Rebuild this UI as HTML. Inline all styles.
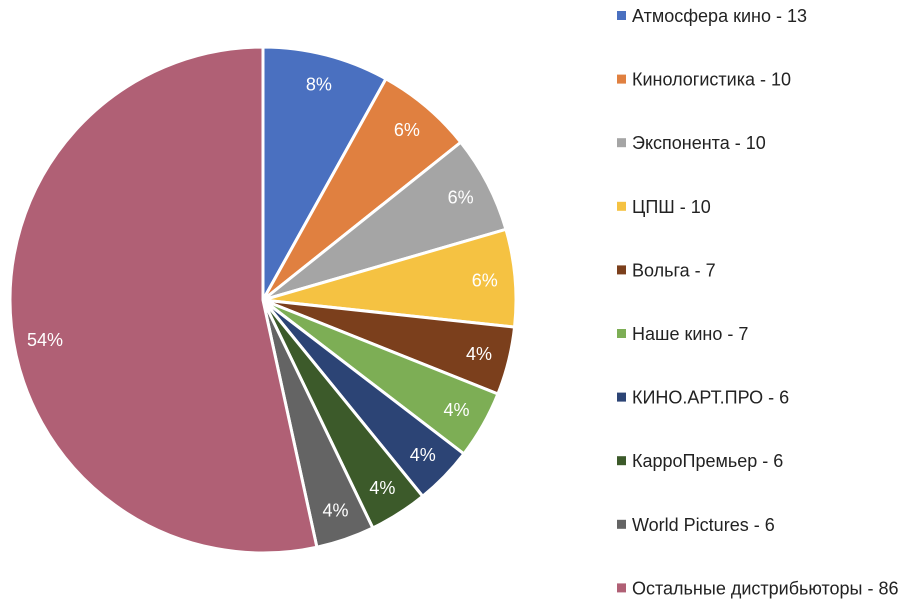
<!DOCTYPE html>
<html><head><meta charset="utf-8"><style>
html,body{margin:0;padding:0;background:#fff;width:922px;height:604px;overflow:hidden}
svg{display:block}
text{font-family:"Liberation Sans",sans-serif}
</style></head><body>
<svg id="s" width="922" height="604" xmlns="http://www.w3.org/2000/svg"></svg>
<script>
var data=[["Атмосфера кино - 13",13,"#4A70C0","8%"],["Кинологистика - 10",10,"#E08040","6%"],["Экспонента - 10",10,"#A5A5A5","6%"],["ЦПШ - 10",10,"#F5C242","6%"],["Вольга - 7",7,"#7B3F1C","4%"],["Наше кино - 7",7,"#7DAE55","4%"],["КИНО.АРТ.ПРО - 6",6,"#2C4475","4%"],["КарроПремьер - 6",6,"#3C5A2A","4%"],["World Pictures - 6",6,"#646464","4%"],["Остальные дистрибьюторы - 86",86,"#B06075","54%"]];
var cx=263,cy=300,r=253,tot=161,a=0,h="";
data.forEach(function(d,i){
 var a0=a,a1=a+d[1]/tot*2*Math.PI;a=a1;
 var x0=cx+r*Math.sin(a0),y0=cy-r*Math.cos(a0),x1=cx+r*Math.sin(a1),y1=cy-r*Math.cos(a1);
 var large=(a1-a0)>Math.PI?1:0;
 h+='<path d="M'+cx+','+cy+' L'+x0+','+y0+' A'+r+','+r+' 0 '+large+' 1 '+x1+','+y1+' Z" fill="'+d[2]+'" stroke="#fff" stroke-width="3"/>';
 var m=(a0+a1)/2,lr=0.88*r;
 var lx=cx+lr*Math.sin(m),ly2=cy-lr*Math.cos(m)+6;
 if(i==9){lx=45;ly2=346;}
 h+='<text x="'+lx+'" y="'+ly2+'" fill="#fff" font-size="18" text-anchor="middle">'+d[3]+'</text>';
 var ly=16+i*63.6;
 h+='<rect x="617" y="'+(ly-5)+'" width="9" height="9" fill="'+d[2]+'"/>';
 h+='<text x="632" y="'+(ly+6)+'" fill="#222" font-size="18">'+d[0]+'</text>';
});
document.getElementById('s').innerHTML=h;
</script>
</body></html>
